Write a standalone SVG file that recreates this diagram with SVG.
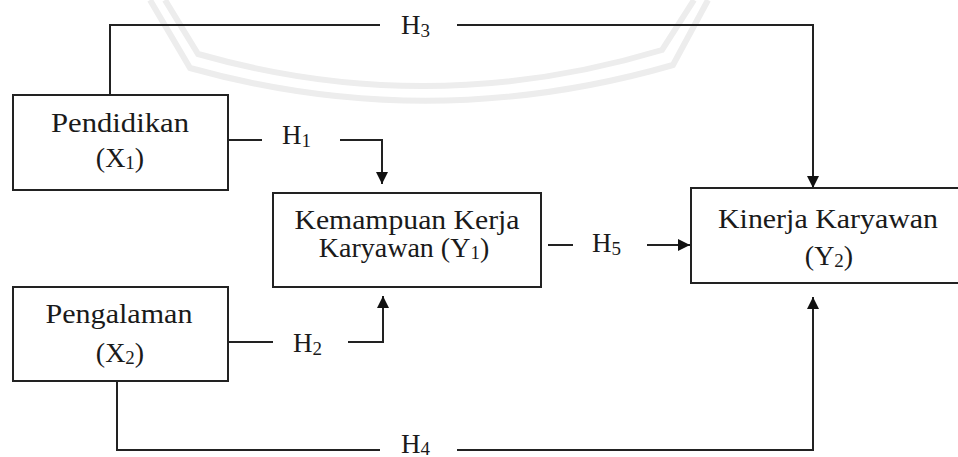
<svg xmlns="http://www.w3.org/2000/svg" width="958" height="457" viewBox="0 0 958 457">
<defs>
<style>
.box{fill:#fff;stroke:#222;stroke-width:2}
.lbl{font-family:"Liberation Serif","Times New Roman",serif;font-size:28px;fill:#1a1a1a;text-anchor:middle}
.h{font-family:"Liberation Serif","Times New Roman",serif;font-size:27px;fill:#1a1a1a}
.sub{font-size:19px}
.ln{fill:none;stroke:#222;stroke-width:2}
.wm{fill:none;stroke:#ededed;stroke-width:6}
</style>
<marker id="arr" viewBox="0 0 12 12" refX="12" refY="6" markerWidth="12" markerHeight="12" markerUnits="userSpaceOnUse" orient="auto">
<path d="M0,0 L12,6 L0,12 Z" fill="#111"/>
</marker>
</defs>
<rect width="958" height="457" fill="#fff"/>
<g id="watermark">
<path class="wm" d="M150,0 L190,68 Q430,135 673,65 L708,0"/>
<path class="wm" d="M165,0 L198,54 Q430,120 662,50 L694,0"/>
</g>
<g id="connectors">
<path class="ln" d="M110,95 V25 H380"/>
<path class="ln" d="M457,25 H813 V188" marker-end="url(#arr)"/>
<path class="ln" d="M228,140 H262"/>
<path class="ln" d="M340,140 H382 V184" marker-end="url(#arr)"/>
<path class="ln" d="M228,342 H273"/>
<path class="ln" d="M348,342 H383 V296" marker-end="url(#arr)"/>
<path class="ln" d="M548,245 H573"/>
<path class="ln" d="M647,245 H690" marker-end="url(#arr)"/>
<path class="ln" d="M117,381 V450 H380"/>
<path class="ln" d="M457,450 H813 V297" marker-end="url(#arr)"/>
<text class="h" x="401" y="34">H<tspan class="sub" dy="3">3</tspan></text>
<text class="h" x="282" y="144">H<tspan class="sub" dy="3">1</tspan></text>
<text class="h" x="293" y="352">H<tspan class="sub" dy="3">2</tspan></text>
<text class="h" x="401" y="453">H<tspan class="sub" dy="2">4</tspan></text>
<text class="h" x="592" y="252">H<tspan class="sub" dy="3">5</tspan></text>
</g>
<g id="node-x1">
<rect class="box" x="13" y="95" width="215" height="95"/>
<text class="lbl" x="120" y="132" textLength="138" lengthAdjust="spacingAndGlyphs">Pendidikan</text>
<text class="lbl" x="120" y="167">(X<tspan class="sub" dy="2">1</tspan><tspan dy="-2">)</tspan></text>
</g>
<g id="node-x2">
<rect class="box" x="13" y="287" width="215" height="94"/>
<text class="lbl" x="119" y="323" textLength="147" lengthAdjust="spacingAndGlyphs">Pengalaman</text>
<text class="lbl" x="120" y="362">(X<tspan class="sub" dy="2">2</tspan><tspan dy="-2">)</tspan></text>
</g>
<g id="node-y1">
<rect class="box" x="273" y="193" width="268" height="94"/>
<text class="lbl" x="407" y="229" textLength="225" lengthAdjust="spacingAndGlyphs">Kemampuan Kerja</text>
<text class="lbl" x="404" y="257">Karyawan (Y<tspan class="sub" dy="2">1</tspan><tspan dy="-2">)</tspan></text>
</g>
<g id="node-y2">
<rect class="box" x="691" y="188" width="280" height="95"/>
<text class="lbl" x="828" y="228" textLength="220" lengthAdjust="spacingAndGlyphs">Kinerja Karyawan</text>
<text class="lbl" x="829" y="265">(Y<tspan class="sub" dy="2">2</tspan><tspan dy="-2">)</tspan></text>
</g>
</svg>
